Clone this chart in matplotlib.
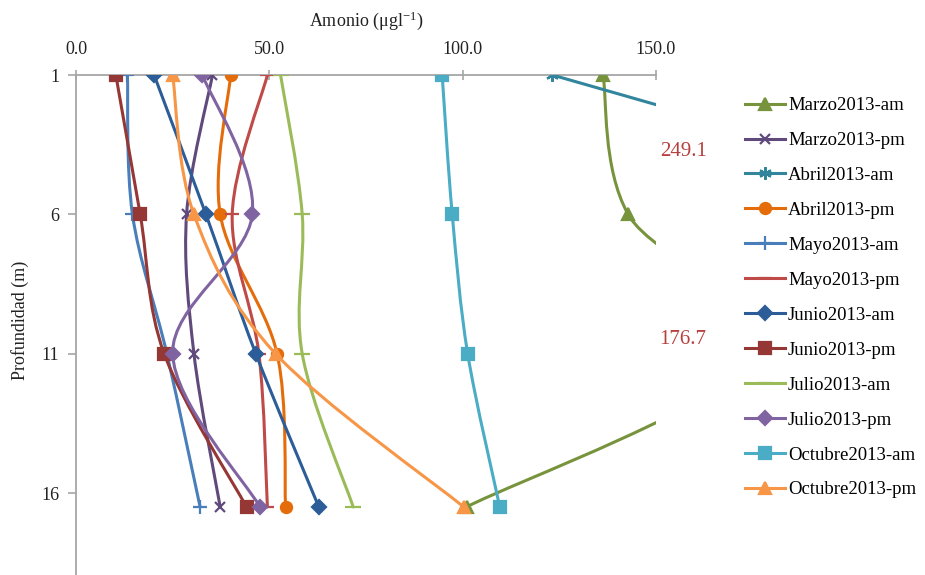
import numpy as np
import matplotlib
matplotlib.use("Agg")
import matplotlib.pyplot as plt
from matplotlib.path import Path
from matplotlib.patches import PathPatch
from matplotlib.lines import Line2D

plt.rcParams['font.family'] = ['Liberation Serif', 'DejaVu Serif']
plt.rcParams['mathtext.fontset'] = 'custom'
plt.rcParams['mathtext.rm'] = 'Liberation Serif'
plt.rcParams['mathtext.it'] = 'Liberation Serif:italic'

# Profundidad (m) de cada muestra
depth = [1, 6, 11, 16.5]
depth_ticks = [1, 6, 11, 16]

# Amonio (ug/l) por campaña
series_names = ['Marzo2013-am', 'Marzo2013-pm', 'Abril2013-am', 'Abril2013-pm',
                'Mayo2013-am', 'Mayo2013-pm', 'Junio2013-am', 'Junio2013-pm',
                'Julio2013-am', 'Julio2013-pm', 'Octubre2013-am', 'Octubre2013-pm']
marzo_am = [136.3, 142.8, 176.7, 101.0]
marzo_pm = [35.3, 28.6, 30.5, 37.3]
abril_am = [123.2, 249.1, np.nan, np.nan]
abril_pm = [40.0, 37.3, 52.0, 54.2]
mayo_am = [13.3, 14.6, 23.5, 32.1]
mayo_pm = [49.5, 40.4, 47.3, 49.5]
junio_am = [20.2, 33.6, 46.5, 62.8]
junio_pm = [10.3, 16.6, 22.8, 44.1]
julio_am = [52.9, 58.5, 58.5, 71.7]
julio_pm = [32.7, 45.6, 25.0, 47.6]
octubre_am = [94.7, 97.3, 101.3, 109.6]
octubre_pm = [25.0, 30.5, 51.6, 100.3]
values = [marzo_am, marzo_pm, abril_am, abril_pm, mayo_am, mayo_pm,
          junio_am, junio_pm, julio_am, julio_pm, octubre_am, octubre_pm]

colors = ['#77933C', '#604A7B', '#31859C', '#E46C0A', '#4A7EBB', '#BE4B48',
          '#2C5D98', '#953735', '#9BBB59', '#8064A2', '#4BACC6', '#F79646']
markers = ['^', 'x', (6, 2, 0), 'o', '+', '_', 'D', 's', '_', 'D', 's', '^']
msizes = [8, 7, 9, 8, 10, 10, 7, 8, 11, 7, 8, 8]


def smooth_path(xs, ys):
    # bezier smoothing like the spreadsheet "smoothed line"
    pts = np.array([(a, b) for a, b in zip(xs, ys) if not np.isnan(a)])
    n = len(pts)
    verts = [pts[0]]
    codes = [Path.MOVETO]
    for i in range(n - 1):
        p0 = pts[max(i - 1, 0)]
        p1 = pts[i]
        p2 = pts[i + 1]
        p3 = pts[min(i + 2, n - 1)]
        c1 = p1 + (p2 - p0) / 6.0
        c2 = p2 - (p3 - p1) / 6.0
        verts += [c1, c2, p2]
        codes += [Path.CURVE4] * 3
    return Path(verts, codes)


fig = plt.figure(figsize=(9.25, 5.75), dpi=100)
ax = fig.add_axes([76 / 925, 0.0, 580 / 925, 1 - 75 / 575])

handles = []
for k, (name, vals) in enumerate(zip(series_names, values)):
    z = 3 + k
    ax.add_patch(PathPatch(smooth_path(vals, depth), fill=False, ec=colors[k],
                           lw=2.2, zorder=z, capstyle='round', joinstyle='round'))
    ax.plot(vals, depth, linestyle='none', marker=markers[k], ms=msizes[k],
            color=colors[k], mec=colors[k], mew=1.6, zorder=z + 0.5)
    handles.append(Line2D([0], [0], color=colors[k], lw=2.2, marker=markers[k],
                          ms=msizes[k], mec=colors[k], mew=1.6))

ax.set_xlim(0, 150)
ax.set_ylim(18.94, 1)
ax.set_xticks([0, 50, 100, 150])
ax.set_xticklabels(['0.0', '50.0', '100.0', '150.0'])
ax.set_yticks(depth_ticks)
ax.set_yticklabels([str(d) for d in depth_ticks])
ax.xaxis.tick_top()

for s in ['bottom', 'right']:
    ax.spines[s].set_visible(False)
for s in ['top', 'left']:
    ax.spines[s].set_color('#A6A6A6')
    ax.spines[s].set_linewidth(1.3)
ax.spines['top'].set_zorder(1)

ax.tick_params(axis='x', direction='inout', length=7, width=1.2, color='#A6A6A6',
               labelsize=13, labelcolor='#222222', pad=9)
ax.tick_params(axis='y', direction='out', length=6, width=1.2, color='#A6A6A6',
               labelsize=13, labelcolor='#222222', pad=6)
ax.patch.set_alpha(0)

# valores fuera de escala
ax.text(157.0, 3.76, f'{abril_am[1]:.1f}', color='#B5403E', fontsize=15,
        ha='center', va='center', clip_on=False)
ax.text(157.0, 10.5, f'{marzo_am[2]:.1f}', color='#B5403E', fontsize=15,
        ha='center', va='center', clip_on=False)

fig.text(366 / 925, 1 - 21 / 575, r'Amonio ($\mathrm{\mu}$gl$^{-1}$)', fontsize=13,
         ha='center', va='center', color='#222222')
fig.text(20 / 925, 1 - 320 / 575, 'Profundidad (m)', fontsize=13, rotation=90,
         ha='center', va='center', color='#222222')

fig.legend(handles, series_names, loc='upper left',
           bbox_to_anchor=(745 / 925, 1 - 97 / 575), frameon=False,
           fontsize=13.5, handlelength=2.15, handletextpad=0.15, labelspacing=0.95,
           borderpad=0, borderaxespad=0)

fig.savefig('out.png', dpi=100)
